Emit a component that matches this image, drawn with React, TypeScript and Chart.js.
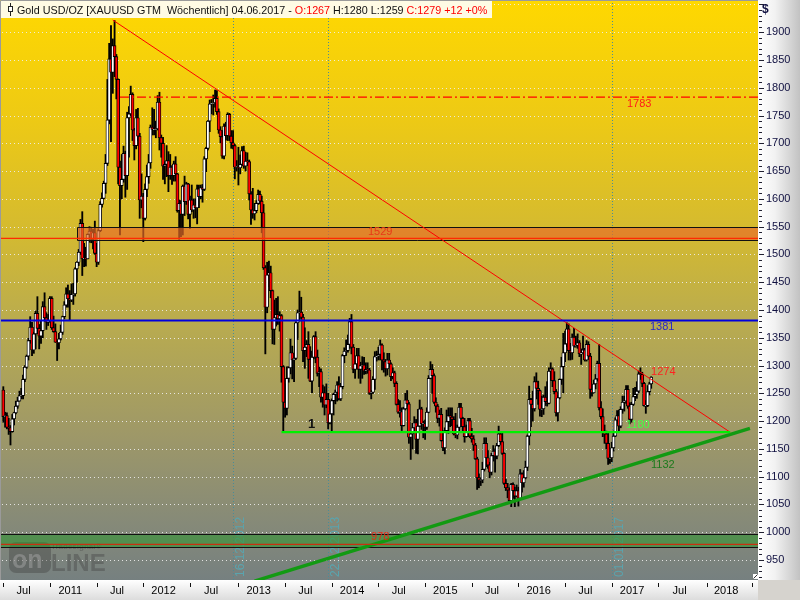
import React, { useEffect, useRef } from "react";
import { Chart, registerables } from "chart.js";

Chart.register(...registerables);

// Weekly bars (dated by the Sunday ending the week): first bar 04.07.2010, last bar 04.06.2017
const opens: number[] = [
  1256,1208,1210,1189,1188,1181,1204,1215,1227,1236,1246,1246,1275,1297,1317,1345,1369,1328,1357,1394,1367,1353,1363,1406,1386,1378,1380,
  1421,1368,1361,1342,1341,1348,1360,1388,1409,1429,1420,1418,1428,1429,1474,1486,1504,1556,1492,1493,1492,1536,1542,1528,1539,1502,1486,1543,1590,1601,1628,1664,1742,1852,1828,1876,1856,1815,1657,1624,1635,1682,1642,1746,1753,1788,1724,1696,1746,1713,1598,1605,
  1565,1617,1640,1665,1729,1725,1725,1726,1774,1710,1700,1659,1662,1669,1642,1657,1642,1663,1645,1579,1592,1572,1623,1595,1627,1572,1598,1580,1589,1584,1618,1604,1620,1617,1672,1691,1740,1771,1772,1773,1781,1757,1724,1712,1677,1731,1714,1752,1713,1701,1696,1657,1658,
  1656,1662,1687,1659,1668,1667,1609,1580,1573,1579,1592,1608,1596,1575,1476,1405,1463,1467,1435,1365,1386,1392,1384,1390,1298,1234,1223,1277,1296,1323,1310,1313,1377,1395,1396,1387,1327,1333,1338,1311,1272,1315,1352,1315,1286,1289,1243,1251,1229,1239,1197,1213,
  1237,1248,1252,1265,1240,1262,1318,1326,1327,1338,1379,1333,1293,1303,1318,1293,1300,1301,1290,1293,1292,1250,1252,1275,1316,1317,1320,1337,1310,1307,1294,1310,1303,1280,1287,1268,1230,1216,1217,1192,1222,1238,1231,1171,1177,1188,1197,1167,1191,1222,1195,1196,
  1189,1216,1277,1293,1282,1234,1227,1205,1212,1165,1152,1183,1199,1210,1207,1203,1177,1175,1189,1225,1205,1190,1172,1181,1201,1173,1168,1157,1132,1098,1094,1094,1113,1160,1134,1121,1108,1138,1146,1137,1156,1177,1163,1142,1088,1080,1076,1057,1086,1075,1065,1075,
  1061,1105,1089,1098,1117,1173,1239,1230,1222,1271,1259,1255,1221,1222,1243,1235,1232,1290,1294,1273,1253,1215,1242,1275,1298,1323,1339,1366,1327,1323,1351,1335,1336,1341,1321,1323,1328,1310,1338,1317,1257,1251,1267,1276,1304,1224,1208,1179,1177,1160,1133,1134,
  1152,1173,1202,1210,1191,1221,1234,1236,1257,1227,1203,1230,1244,1248,1254,1285,1284,1268,1228,1228,1253,1267,
];
const highs: number[] = [
  1262,1216,1215,1205,1192,1212,1216,1236,1243,1254,1259,1283,1300,1319,1349,1388,1378,1360,1398,1424,1374,1380,1415,1431,1395,1392,1424,
  1424,1389,1375,1345,1358,1373,1389,1415,1440,1445,1435,1447,1448,1476,1487,1509,1563,1577,1520,1513,1537,1550,1549,1545,1560,1520,1546,1595,1611,1632,1680,1815,1880,1912,1888,1921,1860,1816,1668,1680,1695,1686,1756,1766,1803,1791,1727,1761,1763,1718,1645,1610,
  1627,1661,1680,1733,1764,1761,1740,1786,1792,1715,1711,1667,1696,1685,1680,1660,1668,1676,1646,1598,1597,1625,1641,1630,1628,1605,1625,1600,1600,1625,1625,1625,1626,1676,1693,1741,1778,1779,1787,1796,1795,1762,1730,1723,1735,1738,1755,1754,1723,1723,1698,1669,1693,
  1679,1694,1695,1684,1683,1670,1613,1619,1592,1597,1616,1614,1605,1590,1480,1486,1488,1479,1436,1418,1421,1424,1397,1392,1300,1267,1298,1298,1348,1335,1320,1379,1400,1434,1423,1392,1368,1345,1361,1334,1326,1354,1361,1328,1297,1294,1265,1262,1267,1250,1217,1240,
  1250,1256,1271,1280,1268,1320,1332,1346,1355,1385,1392,1338,1308,1331,1331,1306,1316,1315,1305,1305,1295,1255,1280,1325,1326,1333,1346,1339,1323,1311,1322,1322,1305,1296,1290,1271,1239,1237,1224,1225,1250,1255,1234,1178,1196,1208,1203,1221,1238,1225,1200,1202,
  1224,1282,1307,1302,1285,1242,1230,1220,1223,1178,1188,1220,1224,1224,1224,1208,1214,1193,1232,1232,1207,1205,1193,1205,1205,1187,1174,1160,1135,1105,1098,1126,1170,1170,1147,1126,1142,1156,1150,1160,1191,1178,1180,1143,1095,1088,1080,1088,1089,1081,1085,1081,
  1113,1107,1111,1128,1175,1263,1241,1254,1280,1287,1272,1256,1245,1247,1262,1271,1296,1305,1296,1289,1257,1246,1276,1315,1358,1362,1377,1375,1340,1357,1367,1353,1357,1345,1330,1353,1331,1345,1343,1322,1262,1274,1284,1308,1338,1235,1222,1193,1182,1180,1140,1162,
  1182,1206,1219,1220,1226,1245,1245,1264,1264,1233,1234,1259,1261,1271,1290,1296,1288,1270,1237,1264,1270,1280,
];
const lows: number[] = [
  1198,1189,1186,1176,1157,1180,1193,1213,1223,1236,1240,1240,1271,1295,1310,1340,1318,1322,1330,1357,1330,1340,1350,1380,1365,1372,1378,
  1365,1360,1342,1309,1330,1346,1356,1384,1405,1405,1381,1415,1410,1425,1450,1480,1500,1462,1478,1479,1492,1522,1521,1510,1500,1478,1482,1541,1585,1600,1610,1660,1735,1703,1790,1820,1780,1627,1535,1600,1630,1603,1617,1675,1750,1705,1670,1690,1705,1565,1584,1523,
  1562,1604,1628,1655,1715,1715,1710,1724,1688,1675,1635,1627,1640,1613,1635,1626,1632,1632,1576,1527,1532,1535,1570,1590,1564,1547,1577,1565,1566,1555,1584,1600,1594,1615,1649,1688,1721,1753,1751,1765,1752,1718,1701,1673,1672,1706,1705,1705,1691,1690,1636,1650,1625,
  1645,1661,1655,1650,1660,1598,1554,1565,1562,1575,1590,1591,1539,1473,1321,1395,1442,1422,1339,1338,1371,1374,1362,1270,1180,1207,1211,1270,1285,1276,1271,1311,1347,1380,1384,1307,1295,1316,1277,1271,1251,1312,1305,1281,1262,1234,1225,1211,1224,1186,1195,1182,
  1211,1231,1236,1238,1237,1258,1305,1318,1324,1331,1321,1287,1277,1294,1277,1268,1277,1284,1285,1286,1248,1240,1250,1257,1308,1310,1310,1292,1288,1281,1283,1297,1273,1276,1262,1229,1214,1207,1183,1191,1220,1227,1160,1131,1150,1180,1142,1141,1190,1185,1170,1167,
  1185,1215,1276,1250,1232,1216,1197,1191,1164,1147,1141,1182,1178,1190,1192,1175,1170,1168,1182,1200,1181,1162,1171,1172,1170,1162,1147,1131,1077,1080,1084,1089,1110,1118,1115,1098,1103,1128,1108,1132,1154,1158,1140,1086,1075,1062,1052,1046,1061,1046,1064,1047,
  1061,1072,1081,1096,1111,1157,1190,1200,1218,1240,1230,1209,1208,1212,1228,1227,1231,1273,1262,1249,1209,1200,1240,1266,1251,1307,1334,1310,1310,1311,1333,1333,1331,1316,1302,1321,1308,1308,1311,1241,1245,1250,1258,1272,1220,1204,1172,1160,1150,1122,1124,1127,
  1146,1172,1195,1180,1188,1214,1218,1232,1223,1195,1198,1228,1237,1241,1251,1275,1262,1227,1214,1226,1247,1259,
];
const closes: number[] = [
  1208,1210,1189,1188,1181,1204,1215,1227,1236,1246,1246,1275,1297,1317,1345,1369,1328,1357,1394,1367,1353,1363,1406,1386,1378,1380,1421,
  1368,1361,1342,1341,1348,1360,1388,1409,1429,1420,1418,1428,1429,1474,1486,1504,1556,1492,1493,1492,1536,1542,1528,1539,1502,1486,1543,1590,1601,1628,1664,1742,1852,1828,1876,1856,1815,1657,1624,1635,1682,1642,1746,1753,1788,1724,1696,1746,1713,1598,1605,1565,
  1617,1640,1665,1729,1725,1725,1726,1774,1710,1700,1659,1662,1669,1642,1657,1642,1663,1645,1579,1592,1572,1623,1595,1627,1572,1598,1580,1589,1584,1618,1604,1620,1617,1672,1691,1740,1771,1772,1773,1781,1757,1724,1712,1677,1731,1714,1752,1713,1701,1696,1657,1658,1656,
  1662,1687,1659,1668,1667,1609,1580,1573,1579,1592,1608,1596,1575,1476,1405,1463,1467,1435,1365,1386,1392,1384,1390,1298,1234,1223,1277,1296,1323,1310,1313,1377,1395,1396,1387,1327,1333,1338,1311,1272,1315,1352,1315,1286,1289,1243,1251,1229,1239,1197,1213,1237,
  1248,1252,1265,1240,1262,1318,1326,1327,1338,1379,1333,1293,1303,1318,1293,1300,1301,1290,1293,1292,1250,1252,1275,1316,1317,1320,1337,1310,1307,1294,1310,1303,1280,1287,1268,1230,1216,1217,1192,1222,1238,1231,1171,1177,1188,1197,1167,1191,1222,1195,1196,1189,
  1216,1277,1293,1282,1234,1227,1205,1212,1165,1152,1183,1199,1210,1207,1203,1177,1175,1189,1225,1205,1190,1172,1181,1201,1173,1168,1157,1132,1098,1094,1094,1113,1160,1134,1121,1108,1138,1146,1137,1156,1177,1163,1142,1088,1080,1076,1057,1086,1075,1065,1075,1061,
  1105,1089,1098,1117,1173,1239,1230,1222,1271,1259,1255,1221,1222,1243,1235,1232,1290,1294,1273,1253,1215,1242,1275,1298,1323,1339,1366,1327,1323,1351,1335,1336,1341,1321,1323,1328,1310,1338,1317,1257,1251,1267,1276,1304,1224,1208,1179,1177,1160,1133,1134,1152,
  1173,1202,1210,1191,1221,1234,1236,1257,1227,1203,1230,1244,1248,1254,1285,1284,1268,1228,1228,1253,1267,1279,
];

// x axis: bar index of the first bar of each half-year, and the period labels between them
const periodStartBars = [0, 26, 52, 78, 104, 131, 157, 183, 209, 235, 261, 287, 313, 339, 365, 392, 417];
const periodLabels = ["Jul", "2011", "Jul", "2012", "Jul", "2013", "Jul", "2014", "Jul", "2015", "Jul", "2016", "Jul", "2017", "Jul", "2018"];

// y axis tick labels and dotted grid levels
const priceTicks = [950, 1000, 1050, 1100, 1150, 1200, 1250, 1300, 1350, 1400, 1450, 1500, 1550, 1600, 1650, 1700, 1750, 1800, 1850, 1900];
const gridLevels = [950, 1000, 1050, 1100, 1150, 1200, 1250, 1300, 1350, 1400, 1450, 1500, 1550, 1600, 1650, 1700, 1750, 1800, 1850, 1900, 1950];

// marked dates
const markerBars = [128, 181, 339];
const markerLabels = ["16.12.2012", "22.12.2013", "01.01.2017"];

// horizontal levels
const levelValues = [1783, 1529, 1381, 1180, 978];
const levelStartBars = [65, -3, -3, 155, -3];
const levelEndBars = [422, 422, 422, 405, 422];

// trend lines
const downTrendBars = [61, 405];
const downTrendPrices = [1922, 1180];
const upTrendBars = [140, 416];
const upTrendPrices = [912, 1187];

// zones
const orangeZone = [1525.5, 1549.6];
const orangeZoneStartBar = 41;
const greenZone = [973, 997];

// annotations
const noteTexts = ["1783", "1529", "1381", "1274", "1180", "1132", "978", "1"];
const noteBars = [347.5, 203.2, 360.3, 360.9, 347, 360.9, 204.9, 169.8];
const notePrices = [1770.7, 1540.4, 1369.4, 1288, 1193, 1121, 991.4, 1194.8];

// header
const headerMain = "Gold USD/OZ [XAUUSD GTM  Wöchentlich] 04.06.2017 - ";
const headerOpen = "O:1267";
const headerHighLow = " H:1280 L:1259 ";
const headerClose = "C:1279 +12 +0%";

const FONT = '"Liberation Sans", Arial, sans-serif';

const noteColors = ["#ff1a1a", "#e83818", "#2828c8", "#ff2020", "#44ff44", "#1c7a1c", "#e02a14", "#101010"];
const levelColors = ["#ff0000", "#ff2a00", "#0000dd", "#00f000", "#c83010"];
const levelWidths = [1.3, 1.2, 2, 2.2, 1.2];

const decoPlugin = {
  id: "deco",
  beforeDraw(chart: any) {
    const { ctx, chartArea: a, scales } = chart;
    const x = scales.x, y = scales.y;
    const W = chart.width, H = chart.height;
    ctx.save();
    let g = ctx.createLinearGradient(a.right, 0, W, 0);
    g.addColorStop(0, "#ffffff");
    g.addColorStop(0.4, "#f2f2f2");
    g.addColorStop(1, "#c2c2c2");
    ctx.fillStyle = g;
    ctx.fillRect(a.right, 0, W - a.right, a.bottom);
    g = ctx.createLinearGradient(0, a.bottom, 0, H);
    g.addColorStop(0, "#ffffff");
    g.addColorStop(1, "#dcdcdc");
    ctx.fillStyle = g;
    ctx.fillRect(0, a.bottom, a.right, H - a.bottom);
    ctx.fillStyle = "#d6d3ce";
    ctx.fillRect(a.right, a.bottom, W - a.right, H - a.bottom);

    g = ctx.createLinearGradient(0, a.top, 0, a.bottom);
    g.addColorStop(0, "rgb(255,216,0)");
    g.addColorStop(0.2, "rgb(238,202,20)");
    g.addColorStop(0.4, "rgb(212,186,48)");
    g.addColorStop(0.55, "rgb(186,172,78)");
    g.addColorStop(0.75, "rgb(158,152,104)");
    g.addColorStop(0.9, "rgb(134,138,120)");
    g.addColorStop(1, "rgb(118,128,128)");
    ctx.fillStyle = g;
    ctx.fillRect(a.left, a.top, a.right - a.left, a.bottom - a.top);

    ctx.beginPath();
    ctx.rect(a.left, a.top, a.right - a.left, a.bottom - a.top);
    ctx.clip();

    ctx.strokeStyle = "rgba(236,236,236,0.9)";
    ctx.lineWidth = 1;
    ctx.setLineDash([1, 3]);
    for (const v of gridLevels) {
      const py = Math.round(y.getPixelForValue(v)) + 0.5;
      ctx.beginPath();
      ctx.moveTo(a.left + 2, py);
      ctx.lineTo(a.right, py);
      ctx.stroke();
    }

    ctx.strokeStyle = "#4a8c98";
    ctx.setLineDash([1, 2]);
    markerBars.forEach((b, i) => {
      const px = Math.round(x.getPixelForValue(b)) + 0.5;
      ctx.beginPath();
      ctx.moveTo(px, a.top);
      ctx.lineTo(px, a.bottom);
      ctx.stroke();
      ctx.save();
      ctx.translate(px + 1.5, a.bottom - 3);
      ctx.rotate(-Math.PI / 2);
      ctx.font = `12px ${FONT}`;
      ctx.fillStyle = "#5aa4ae";
      ctx.textAlign = "left";
      ctx.textBaseline = "top";
      ctx.fillText(markerLabels[i], 0, 0);
      ctx.restore();
    });
    ctx.setLineDash([]);

    // watermark
    ctx.fillStyle = "rgba(60,60,60,0.38)";
    ctx.beginPath();
    (ctx as any).roundRect(9, a.bottom - 38, 42, 31, 7);
    ctx.fill();
    ctx.font = `bold 25px ${FONT}`;
    ctx.fillStyle = "rgba(170,170,170,0.45)";
    ctx.textBaseline = "alphabetic";
    ctx.fillText("on", 12, a.bottom - 12);
    ctx.font = `bold 24px ${FONT}`;
    ctx.fillStyle = "rgba(70,70,70,0.42)";
    ctx.fillText("LINE", 51, a.bottom - 9);
    ctx.font = `bold 8px ${FONT}`;
    ctx.fillText("Tradesignal®", 51, a.bottom - 31);
    ctx.restore();
  },
  afterDatasetDraw(chart: any, args: any) {
    if (args.index !== 1) return;
    const { ctx, chartArea: a, scales } = chart;
    const x = scales.x, y = scales.y;
    ctx.save();
    ctx.beginPath();
    ctx.rect(a.left, a.top, a.right - a.left, a.bottom - a.top);
    ctx.clip();
    // orange zone
    const ox = Math.round(x.getPixelForValue(orangeZoneStartBar)) + 0.5;
    const oy1 = Math.round(y.getPixelForValue(orangeZone[1])) + 0.5;
    const oy0 = Math.round(y.getPixelForValue(orangeZone[0])) + 0.5;
    ctx.fillStyle = "rgba(232,108,40,0.68)";
    ctx.fillRect(ox, oy1, a.right - ox, oy0 - oy1);
    ctx.strokeStyle = "#111";
    ctx.lineWidth = 1;
    ctx.beginPath();
    ctx.moveTo(a.right, oy1);
    ctx.lineTo(ox, oy1);
    ctx.lineTo(ox, oy0);
    ctx.lineTo(a.right, oy0);
    ctx.stroke();
    // green zone
    const gy1 = Math.round(y.getPixelForValue(greenZone[1])) + 0.5;
    const gy0 = Math.round(y.getPixelForValue(greenZone[0])) + 0.5;
    ctx.fillStyle = "rgba(44,150,44,0.55)";
    ctx.fillRect(a.left, gy1, a.right - a.left, gy0 - gy1);
    ctx.beginPath();
    ctx.moveTo(a.left, gy1);
    ctx.lineTo(a.right, gy1);
    ctx.moveTo(a.left, gy0);
    ctx.lineTo(a.right, gy0);
    ctx.stroke();
    ctx.restore();
  },
  afterDraw(chart: any) {
    const { ctx, chartArea: a, scales } = chart;
    const x = scales.x, y = scales.y;
    ctx.save();
    // annotations
    ctx.textAlign = "left";
    ctx.textBaseline = "middle";
    noteTexts.forEach((t, i) => {
      ctx.font = t === "1" ? `bold 13px ${FONT}` : `11px ${FONT}`;
      ctx.fillStyle = noteColors[i];
      ctx.fillText(t, x.getPixelForValue(noteBars[i]), y.getPixelForValue(notePrices[i]));
    });

    // plot border
    ctx.strokeStyle = "#9a9a9a";
    ctx.lineWidth = 1;
    ctx.beginPath();
    ctx.moveTo(0.5, a.bottom);
    ctx.lineTo(0.5, 0.5);
    ctx.lineTo(a.right, 0.5);
    ctx.stroke();

    // y axis tick marks
    ctx.strokeStyle = "#202030";
    for (let v = 920; v <= 1950; v += 10) {
      const py = Math.round(y.getPixelForValue(v)) + 0.5;
      ctx.beginPath();
      ctx.moveTo(a.right + 1, py);
      ctx.lineTo(a.right + (v % 50 === 0 ? 6 : 4), py);
      ctx.stroke();
    }
    ctx.font = `bold 12px ${FONT}`;
    ctx.fillStyle = "#101040";
    ctx.textBaseline = "middle";
    ctx.fillText("$", a.right + 4, 10);

    // x axis tick marks
    ctx.strokeStyle = "#111";
    for (const b of periodStartBars) {
      const px = Math.round(x.getPixelForValue(b)) + 0.5;
      if (px > a.right) continue;
      ctx.beginPath();
      ctx.moveTo(px, a.bottom + 3);
      ctx.lineTo(px, a.bottom + 7);
      ctx.stroke();
    }

    // resize glyph
    ctx.fillStyle = "#ffffff";
    ctx.fillRect(a.right - 5, a.bottom - 6, 5, 5);
    ctx.strokeStyle = "#333";
    ctx.beginPath();
    ctx.moveTo(a.right - 4.5, a.bottom - 1.5);
    ctx.lineTo(a.right - 0.5, a.bottom - 5.5);
    ctx.stroke();

    // header
    const full = headerMain + headerOpen + headerHighLow + headerClose;
    ctx.font = `12px ${FONT}`;
    const w12 = ctx.measureText(full).width;
    const fs = Math.min(13, (12 * 471) / w12);
    ctx.font = `${fs}px ${FONT}`;
    ctx.fillStyle = "#fffbe4";
    ctx.fillRect(1, 1, 491, 17);
    ctx.strokeStyle = "#222";
    ctx.beginPath();
    ctx.moveTo(10.5, 3);
    ctx.lineTo(10.5, 16);
    ctx.stroke();
    ctx.fillStyle = "#fff";
    ctx.fillRect(8, 6, 5, 6);
    ctx.strokeRect(8.5, 6.5, 4, 5);
    ctx.textBaseline = "alphabetic";
    let tx = 17;
    const parts = [headerMain, headerOpen, headerHighLow, headerClose];
    const cols = ["#111", "#ff0000", "#111", "#ff0000"];
    parts.forEach((p, i) => {
      ctx.fillStyle = cols[i];
      ctx.fillText(p, tx, 13.5);
      tx += ctx.measureText(p).width;
    });
    ctx.restore();
  },
};

export default function App() {
  const ref = useRef<HTMLCanvasElement | null>(null);

  useEffect(() => {
    if (!ref.current) return;
    Chart.defaults.font.family = FONT;
    const n = Math.min(opens.length, highs.length, lows.length, closes.length);
    const idx = Array.from({ length: n }, (_, i) => i);

    const wicks = idx.map((i) => ({ x: i, y: [lows[i], highs[i]] }));
    const bodies = idx.map((i) => {
      const o = opens[i], c = closes[i];
      return { x: i, y: o === c ? [o - 0.9, c + 0.9] : [o, c] };
    });
    const bodyColors = idx.map((i) => (closes[i] >= opens[i] ? "#ffffff" : "#ff0000"));

    const lineSets: any[] = levelValues.map((v, i) => ({
      type: "line",
      data: [
        { x: levelStartBars[i], y: v },
        { x: levelEndBars[i], y: v },
      ],
      borderColor: levelColors[i],
      borderWidth: levelWidths[i],
      borderDash: i === 0 ? [9, 3, 2, 3] : [],
      pointRadius: 0,
      fill: false,
      order: 1,
    }));
    lineSets.push({
      type: "line",
      data: downTrendBars.map((b, i) => ({ x: b, y: downTrendPrices[i] })),
      borderColor: "#ff0000",
      borderWidth: 1,
      pointRadius: 0,
      fill: false,
      order: 1,
    });
    lineSets.push({
      type: "line",
      data: upTrendBars.map((b, i) => ({ x: b, y: upTrendPrices[i] })),
      borderColor: "#129a12",
      borderWidth: 3.5,
      pointRadius: 0,
      fill: false,
      order: 1,
    });

    const chart = new Chart(ref.current, {
      type: "bar",
      data: {
        datasets: [
          {
            type: "bar",
            data: wicks as any,
            backgroundColor: "#000000",
            barThickness: 1.2,
            grouped: false,
            order: 5,
          } as any,
          {
            type: "bar",
            data: bodies as any,
            backgroundColor: bodyColors,
            borderColor: "#000000",
            borderWidth: 0.9,
            borderSkipped: false,
            barThickness: 3,
            grouped: false,
            order: 4,
          } as any,
          ...lineSets,
        ],
      },
      plugins: [decoPlugin as any],
      options: {
        animation: false,
        responsive: false,
        maintainAspectRatio: false,
        events: [],
        layout: { padding: 0 },
        plugins: { legend: { display: false }, tooltip: { enabled: false }, title: { display: false } },
        scales: {
          x: {
            type: "linear",
            position: "bottom",
            min: -1.84,
            max: 420.5,
            offset: false,
            grid: { display: false, drawTicks: false },
            border: { display: false },
            afterBuildTicks: (axis: any) => {
              axis.ticks = periodLabels.map((_, i) => ({
                value: (periodStartBars[i] + periodStartBars[i + 1]) / 2 - 1.7,
              }));
            },
            afterFit: (axis: any) => {
              axis.height = 20;
              axis.paddingLeft = 0;
              axis.paddingRight = 0;
            },
            ticks: {
              autoSkip: false,
              maxRotation: 0,
              minRotation: 0,
              padding: 4,
              color: "#000000",
              font: { size: 11, family: FONT },
              callback: (_v: any, i: number) => periodLabels[i],
            },
          },
          y: {
            type: "linear",
            position: "right",
            min: 914,
            max: 1958,
            grid: { display: false, drawTicks: false },
            border: { display: false },
            afterBuildTicks: (axis: any) => {
              axis.ticks = priceTicks.map((v) => ({ value: v }));
            },
            afterFit: (axis: any) => {
              axis.width = 42;
              axis.paddingTop = 0;
              axis.paddingBottom = 0;
            },
            ticks: {
              autoSkip: false,
              padding: 8,
              color: "#101040",
              font: { size: 11, family: FONT },
              callback: (v: any) => String(v),
            },
          },
        },
      } as any,
    });
    return () => chart.destroy();
  }, []);

  return (
    <div style={{ position: "absolute", left: 0, top: 0, width: 800, height: 600 }}>
      <canvas ref={ref} width={800} height={600} style={{ width: 800, height: 600, display: "block" }} />
    </div>
  );
}
